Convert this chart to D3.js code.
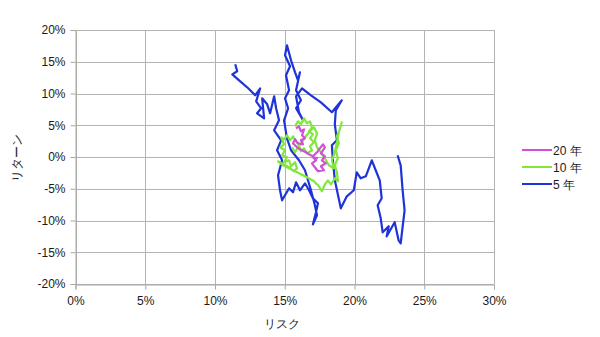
<!DOCTYPE html>
<html>
<head>
<meta charset="utf-8">
<script src="https://cdn.jsdelivr.net/npm/d3@7"></script>
<style>
  body { margin: 0; background: #fff; }
  svg text { font-family: "Liberation Sans", Arial, sans-serif; fill: #1a1a1a; }
</style>
</head>
<body>
<svg id="chart" width="600" height="337"></svg>
<script>
// ticks
var xTicks = [0, 5, 10, 15, 20, 25, 30];
var yTicks = [-20, -15, -10, -5, 0, 5, 10, 15, 20];

// series: risk (%) / return (%)
var seriesNames = ["20 年", "10 年", "5 年"];
var seriesColors = ["#d24fd8", "#7fe83a", "#1e33d8"];

var risk5 = [11.45, 11.59, 11.24, 11.81, 12.38, 12.88, 13.24, 12.95, 13.31, 13.02, 13.52, 13.38, 13.74, 13.95, 14.24, 14.38,
  14.59, 14.24, 14.74, 14.45, 14.81, 14.52, 14.66, 14.81, 15.31, 15.59, 15.81, 16.09, 16.45, 16.74, 17.02, 17.38, 17.24,
  17.02, 17.31, 17.16, 16.88, 16.45, 16.02, 15.45, 15.16, 14.95, 15.24, 15.02, 15.31, 15.09, 15.38, 15.02, 15.16, 15.45,
  15.74, 15.95, 16.09, 15.81, 16.16, 15.81, 16.31, 16.02, 15.81, 16.24, 16.88, 17.59, 18.38, 19.09, 18.66, 18.59, 18.74,
  18.38, 18.45, 18.59, 19.02, 19.45, 19.95, 20.16, 20.45, 20.81, 21.24, 21.52, 21.81, 21.95, 21.66, 21.88, 22.02, 22.45,
  22.31, 22.88, 23.16, 23.31, 23.59, 23.45, 23.31, 23.09];
var return5 = [14.60, 13.50, 13.02, 11.92, 10.82, 9.72, 10.82, 8.77, 7.67, 6.88, 6.09, 9.24, 8.30, 6.88, 9.56, 7.67,
  5.78, 4.20, 2.63, 1.06, -0.52, -2.88, -5.24, -6.82, -4.93, -5.56, -3.98, -5.24, -4.14, -5.24, -6.50, -7.29, -8.71,
  -10.60, -9.18, -7.61, -5.24, -2.09, -0.52, 1.06, 2.94, 5.78, 7.67, 9.24, 10.50, 12.87, 14.28, 16.02, 17.59, 15.23,
  13.34, 12.08, 13.34, 10.50, 8.93, 7.67, 5.78, 7.04, 9.56, 10.82, 9.72, 8.61, 7.04, 8.93, 7.35, 5.15, 2.63,
  1.84, -0.52, -3.67, -8.08, -6.19, -5.24, -2.41, -3.35, -3.04, -0.52, -2.09, -3.67, -6.50, -7.61, -9.65, -11.86, -10.91,
  -12.49, -10.28, -13.12, -13.59, -8.39, -5.24, -1.31, 0.27];

var risk10 = [15.74, 15.95, 16.16, 16.38, 16.59, 16.81, 16.95, 16.74, 17.02, 16.81, 17.09, 16.81, 16.95, 16.59, 16.38,
  16.16, 16.02, 15.81, 15.59, 15.38, 15.16, 14.95, 14.74, 14.95, 14.66, 15.02, 14.81, 15.16, 14.95, 15.31, 15.45, 15.74,
  15.88, 15.66, 15.31, 14.88, 14.52, 14.88, 15.45, 16.02, 16.59, 17.09, 17.45, 17.66, 17.88, 18.09, 18.31, 18.59, 18.81,
  18.74, 18.59, 18.81, 18.66, 18.88, 18.74, 18.95, 19.09, 18.88, 18.74, 18.59, 18.38, 18.52, 18.16, 17.88, 17.59, 17.31,
  17.16, 17.31, 17.09, 16.81, 16.45, 16.24, 15.95, 15.74, 15.52];
var return10 = [4.83, 5.62, 5.15, 6.09, 5.31, 5.62, 4.68, 4.05, 3.57, 2.94, 2.31, 1.69, 1.06, 0.58, 1.37,
  0.90, 1.84, 2.47, 3.26, 2.63, 3.42, 2.79, 3.10, 2.00, 1.53, 1.06, 0.27, -0.05, -0.83, -0.52, -1.46, -0.83,
  -1.78, -2.25, -1.62, -1.15, -0.68, -1.31, -1.94, -2.57, -3.20, -3.83, -4.61, -5.40, -4.30, -3.67, -4.30, -3.35, -3.83,
  -2.41, -1.31, -0.20, 1.06, 2.16, 3.26, 4.36, 5.46, 3.89, 2.31, 0.74, -0.52, -1.78, -1.31, -0.20, 0.74, 1.53,
  2.63, 3.73, 4.68, 4.05, 3.10, 2.31, 1.53, 0.74, 1.53];

var risk20 = [15.81, 16.02, 16.16, 16.38, 16.24, 16.45, 16.16, 16.31, 15.95, 15.74, 15.59, 15.88, 16.09, 16.38, 16.74,
  17.02, 17.31, 17.52, 17.74, 17.88, 17.59, 17.88, 17.66, 17.95, 17.59, 17.81, 17.38, 17.16, 16.95, 17.24, 17.02, 17.38];
var return20 = [4.52, 4.83, 4.05, 4.36, 3.42, 2.94, 2.63, 2.00, 2.16, 2.79, 2.16, 1.53, 1.21, 0.90, 0.43,
  0.11, 0.74, 1.37, 2.00, 1.53, 0.58, 0.11, -0.52, -0.99, -1.46, -2.09, -2.25, -1.62, -0.99, -0.52, -0.05, -0.20];

var svg = d3.select("#chart");

var x = d3.scaleLinear().domain([0, 30]).range([75.5, 494]);
var y = d3.scaleLinear().domain([-20, 20]).range([284, 30]);

// grid
svg.append("g").selectAll("line").data(yTicks).join("line")
  .attr("x1", 75.5).attr("x2", 494)
  .attr("y1", d => Math.round(y(d)) + 0.5).attr("y2", d => Math.round(y(d)) + 0.5)
  .attr("stroke", "#b3b3b3");
svg.append("g").selectAll("line").data(xTicks).join("line")
  .attr("x1", d => Math.round(x(d)) + 0.5).attr("x2", d => Math.round(x(d)) + 0.5)
  .attr("y1", 30).attr("y2", 284)
  .attr("stroke", "#b3b3b3");

// axes
var yAxis = svg.append("g")
  .attr("transform", "translate(75.5,0)")
  .call(d3.axisLeft(y).tickValues(yTicks).tickSize(5).tickPadding(5).tickFormat(d => d + "%"));
var xAxis = svg.append("g")
  .attr("transform", "translate(0,284.5)")
  .call(d3.axisBottom(x).tickValues(xTicks).tickSize(5).tickPadding(7).tickFormat(d => d + "%"));
[yAxis, xAxis].forEach(function(a) {
  a.selectAll("path, line").attr("stroke", "#a8a8a8");
  a.selectAll("text").style("font-size", "12px").attr("fill", "#1a1a1a");
  a.attr("font-family", null);
});

// axis titles
svg.append("text").text("リスク")
  .attr("x", 282).attr("y", 328)
  .attr("text-anchor", "middle").style("font-size", "12px");
svg.append("text").text("リターン")
  .attr("transform", "translate(21,158) rotate(-90)")
  .attr("text-anchor", "middle").style("font-size", "12px");

// lines
var line = d3.line().x(d => x(d[0])).y(d => y(d[1]));
var series = [
  d3.zip(risk20, return20),
  d3.zip(risk10, return10),
  d3.zip(risk5, return5)
];
[2, 1, 0].forEach(function(i) {
  svg.append("path")
    .datum(series[i])
    .attr("d", line)
    .attr("fill", "none")
    .attr("stroke", seriesColors[i])
    .attr("stroke-width", 2.2)
    .attr("stroke-linejoin", "round");
});

// legend
var legend = svg.append("g").selectAll("g").data(seriesNames).join("g")
  .attr("transform", (d, i) => "translate(522," + (150 + i * 17) + ")");
legend.append("line")
  .attr("x1", 0).attr("x2", 30)
  .attr("stroke", (d, i) => seriesColors[i])
  .attr("stroke-width", 2);
legend.append("text").text(d => d)
  .attr("x", 31).attr("y", 4.5)
  .style("font-size", "12px");
</script>
</body>
</html>
